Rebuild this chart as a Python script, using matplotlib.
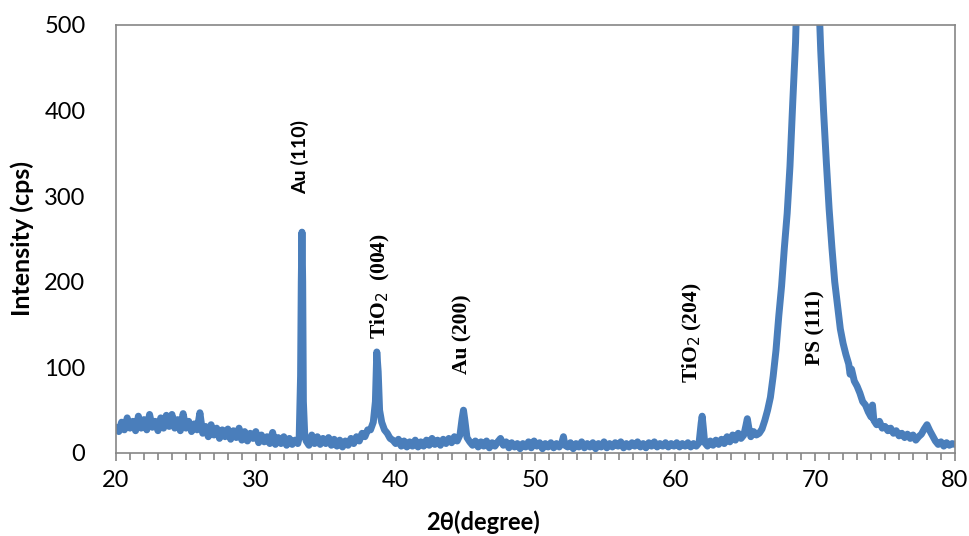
import matplotlib
matplotlib.use("Agg")
import matplotlib.pyplot as plt
from matplotlib.ticker import MultipleLocator

# XRD pattern
two_theta = [
    20.0, 20.2, 20.4, 20.6, 20.8, 21.0, 21.2, 21.4, 21.6, 21.8,
    22.0, 22.2, 22.4, 22.6, 22.8, 23.0, 23.2, 23.4, 23.6, 23.8,
    24.0, 24.2, 24.4, 24.6, 24.8, 25.0, 25.2, 25.4, 25.6, 25.8,
    26.0, 26.2, 26.4, 26.6, 26.8, 27.0, 27.2, 27.4, 27.6, 27.8,
    28.0, 28.2, 28.4, 28.6, 28.8, 29.0, 29.2, 29.4, 29.6, 29.8,
    30.0, 30.2, 30.4, 30.6, 30.8, 31.0, 31.2, 31.4, 31.6, 31.8,
    32.0, 32.2, 32.4, 32.6, 32.8, 33.0, 33.1, 33.2, 33.25, 33.3,
    33.35, 33.4, 33.5, 33.6, 33.8, 34.0, 34.2, 34.4, 34.6, 34.8,
    35.0, 35.2, 35.4, 35.6, 35.8, 36.0, 36.2, 36.4, 36.6, 36.8,
    37.0, 37.2, 37.4, 37.6, 37.8, 38.0, 38.2, 38.4, 38.55, 38.65,
    38.75, 38.85, 39.0, 39.2, 39.4, 39.6, 39.8, 40.0, 40.2, 40.4,
    40.6, 40.8, 41.0, 41.2, 41.4, 41.6, 41.8, 42.0, 42.2, 42.4,
    42.6, 42.8, 43.0, 43.2, 43.4, 43.6, 43.8, 44.0, 44.2, 44.4,
    44.6, 44.75, 44.85, 44.95, 45.1, 45.3, 45.5, 45.7, 45.9, 46.1,
    46.3, 46.5, 46.7, 46.9, 47.1, 47.3, 47.5, 47.7, 47.9, 48.1,
    48.3, 48.5, 48.7, 48.9, 49.1, 49.3, 49.5, 49.7, 49.9, 50.1,
    50.3, 50.5, 50.7, 50.9, 51.1, 51.3, 51.5, 51.7, 51.9, 52.0,
    52.1, 52.3, 52.5, 52.7, 52.9, 53.1, 53.3, 53.5, 53.7, 53.9,
    54.1, 54.3, 54.5, 54.7, 54.9, 55.1, 55.3, 55.5, 55.7, 55.9,
    56.1, 56.3, 56.5, 56.7, 56.9, 57.1, 57.3, 57.5, 57.7, 57.9,
    58.1, 58.3, 58.5, 58.7, 58.9, 59.1, 59.3, 59.5, 59.7, 59.9,
    60.1, 60.3, 60.5, 60.7, 60.9, 61.1, 61.3, 61.5, 61.7, 61.85,
    61.92, 62.0, 62.1, 62.3, 62.5, 62.7, 62.9, 63.1, 63.3, 63.5,
    63.7, 63.9, 64.1, 64.3, 64.5, 64.7, 64.9, 65.05, 65.15, 65.25,
    65.4, 65.6, 65.8, 66.0, 66.2, 66.4, 66.6, 66.8, 67.0, 67.2,
    67.4, 67.6, 67.8, 68.0, 68.2, 68.4, 68.6, 68.8, 69.0, 69.5,
    70.0, 70.2, 70.4, 70.6, 70.8, 71.0, 71.2, 71.4, 71.6, 71.8,
    72.0, 72.2, 72.4, 72.5, 72.6, 72.8, 73.0, 73.2, 73.4, 73.6,
    73.8, 74.0, 74.1, 74.2, 74.4, 74.6, 74.8, 75.0, 75.2, 75.4,
    75.6, 75.8, 76.0, 76.2, 76.4, 76.6, 76.8, 77.0, 77.2, 77.4,
    77.6, 77.8, 78.0, 78.2, 78.4, 78.6, 78.8, 79.0, 79.2, 79.4,
    79.6, 79.8, 80.0,
]
intensity = [
    30, 25, 36, 27, 41, 29, 37, 26, 43, 29,
    39, 27, 45, 30, 37, 26, 41, 29, 44, 31,
    45, 29, 39, 26, 46, 29, 37, 25, 34, 27,
    47, 23, 31, 19, 33, 21, 29, 17, 27, 19,
    28, 16, 26, 18, 29, 15, 25, 14, 23, 17,
    25, 12, 21, 13, 19, 11, 24, 10, 18, 11,
    19, 9, 17, 10, 15, 11, 18, 90, 200, 258,
    200, 60, 20, 14, 9, 21, 11, 19, 10, 17,
    11, 18, 9, 16, 8, 15, 7, 14, 9, 17,
    11, 19, 14, 23, 19, 27, 27, 36, 60, 118,
    95, 50, 36, 27, 23, 17, 15, 11, 16, 8,
    14, 7, 13, 8, 15, 7, 13, 8, 15, 9,
    17, 10, 15, 9, 16, 11, 17, 12, 19, 14,
    21, 40, 50, 38, 18, 13, 9, 14, 7, 13,
    8, 14, 6, 12, 8, 13, 17, 9, 13, 6,
    12, 7, 11, 5, 11, 7, 13, 6, 14, 8,
    12, 5, 11, 7, 12, 6, 11, 7, 13, 19,
    9, 7, 12, 5, 11, 7, 13, 6, 11, 7,
    12, 5, 11, 7, 13, 6, 11, 7, 12, 8,
    13, 6, 11, 7, 12, 8, 13, 7, 11, 6,
    12, 8, 13, 7, 11, 8, 12, 7, 11, 8,
    12, 7, 11, 8, 12, 7, 11, 8, 12, 35,
    43, 30, 12, 8, 14, 9, 15, 10, 16, 11,
    19, 13, 21, 15, 23, 17, 21, 32, 40, 30,
    19, 25, 21, 23, 28, 38, 50, 65, 90, 120,
    160, 195, 240, 280, 335, 410, 480, 600, 750, 950,
    750, 560, 470, 400, 340, 285, 240, 200, 172, 145,
    128, 115, 104, 92, 98, 84, 78, 70, 60, 56,
    48, 42, 56, 38, 33, 37, 29, 31, 26, 29,
    23, 26, 20, 23, 18, 22, 17, 21, 15, 19,
    22, 28, 33, 26, 20, 14, 10, 13, 8, 12,
    9, 11, 10,
]

peak_labels = ["Au (110)", "TiO$_2$  (004)", "Au (200)", "TiO$_2$ (204)", "PS (111)"]
label_x = [33.15, 38.95, 44.75, 61.2, 70.0]
label_y = [303, 133, 92, 82, 103]
label_fonts = [["Lato", "DejaVu Sans"], "Liberation Serif", "Liberation Serif",
               "Liberation Serif", "Liberation Serif"]
label_sizes = [14, 15.5, 15.5, 15.5, 15.5]

fig = plt.figure(figsize=(9.7, 5.36), dpi=100)
ax = fig.add_axes([0.1196, 0.1549, 0.8649, 0.7985])

ax.plot(two_theta, intensity, color="#4a7ebb", linewidth=5,
        solid_joinstyle="round", solid_capstyle="round")

for lab, lx, ly, fam, fs in zip(peak_labels, label_x, label_y, label_fonts, label_sizes):
    ax.text(lx, ly, lab, rotation=90, ha="center", va="bottom",
            fontsize=fs, fontweight="bold", family=fam)

ax.set_xlim(20, 80)
ax.set_ylim(0, 500)
ax.xaxis.set_major_locator(MultipleLocator(10))
ax.xaxis.set_minor_locator(MultipleLocator(1))
ax.yaxis.set_major_locator(MultipleLocator(100))

for s in ax.spines.values():
    s.set_color("#868686")
    s.set_linewidth(1.2)

ax.tick_params(axis="x", which="both", direction="out", color="#868686",
               width=1.2, labelsize=17)
ax.tick_params(axis="x", which="major", length=6, pad=6)
ax.tick_params(axis="x", which="minor", length=5)
ax.tick_params(axis="y", length=0, labelsize=17, pad=22)
for lab in ax.get_xticklabels() + ax.get_yticklabels():
    lab.set_family(["Lato", "DejaVu Sans"])

ax.set_xlabel("2θ(degree)", fontsize=17, fontweight="bold",
              family=["Lato", "DejaVu Sans"], labelpad=1)
ax.xaxis.set_label_coords(0.437, -0.135)
ax.set_ylabel("Intensity (cps)", fontsize=18, fontweight="bold",
              family=["Lato", "DejaVu Sans"])
ax.yaxis.set_label_coords(-0.098, 0.5)

fig.savefig("out.png", dpi=100)
